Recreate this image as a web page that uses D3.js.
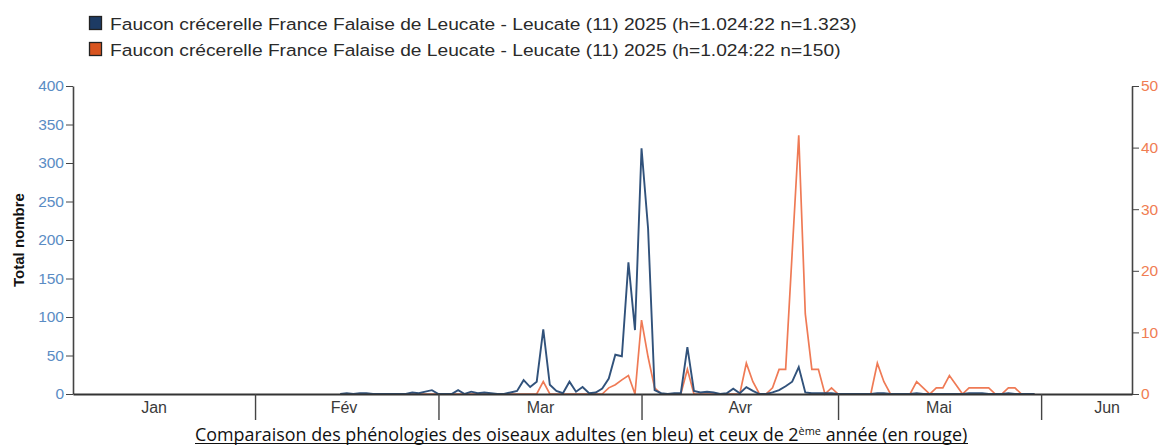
<!DOCTYPE html>
<html><head><meta charset="utf-8">
<script src="https://cdn.jsdelivr.net/npm/d3@7"></script>
<style>body{margin:0;background:#fff} svg{display:block}</style>
</head><body>
<svg id="chart" width="1163" height="446"></svg>
<script>
// ---------- DATA ----------
const seriesStart = "2025-02-14"; // first day of the daily arrays
const adults = [
  // Feb 14 - Feb 28
  0,1,0,1,1,0,0,0,0,0,0,2,1,3,5,
  // Mar 1 - Mar 31
  0,0,0,5,0,3,1,2,1,0,0,2,4,18,9,16,84,12,4,1,16,3,9,1,2,7,20,51,49,171,83,
  // Apr 1 - Apr 30
  319,215,5,1,0,1,1,61,4,2,3,2,0,1,7,1,9,4,0,0,2,5,10,16,35,2,1,1,1,1,
  // May 1 - May 31
  0,0,0,0,0,0,1,1,0,0,0,0,1,0,0,0,0,0,0,0,1,1,1,0,0,0,1,0,0,0,0
];
const secondYear = [
  // Feb 14 - Feb 28
  0,0,0,0,0,0,0,0,0,0,0,0,0,0,0,
  // Mar 1 - Mar 31
  0,0,0,0,0,0,0,0,0,0,0,0,0,0,0,0,2,0,0,0,0,0,0,0,0,0,1,1.5,2.3,3,0,
  // Apr 1 - Apr 30
  12,6,1,0,0,0,0,4,0,0,0,0,0,0,0,0,5,2,0,0,1,4,4,23,42,13,4,4,0,1,
  // May 1 - May 31
  0,0,0,0,0,0,5,2,0,0,0,0,2,1,0,1,1,3,1.5,0,1,1,1,1,0,0,1,1,0,0,0
];
const xDomain = ["2025-01-04T05:00Z", "2025-06-14T21:00Z"];
const monthStarts = ["2025-02-01", "2025-03-01", "2025-04-01", "2025-05-01", "2025-06-01"];
const monthLabels = ["Jan", "Fév", "Mar", "Avr", "Mai", "Jun"];
const monthLabelDates = ["2025-01-16T12:00Z", "2025-02-14T12:00Z", "2025-03-16T12:00Z", "2025-04-16T00:00Z", "2025-05-16T08:00Z", "2025-06-11T00:00Z"];
const leftTicks = [0, 50, 100, 150, 200, 250, 300, 350, 400];
const rightTicks = [0, 10, 20, 30, 40, 50];
const leftMax = 400, rightMax = 50;
const legendLabels = [
  "Faucon crécerelle France Falaise de Leucate - Leucate (11) 2025 (h=1.024:22 n=1.323)",
  "Faucon crécerelle France Falaise de Leucate - Leucate (11) 2025 (h=1.024:22 n=150)"
];
const yTitle = "Total nombre";
const captionParts = ["Comparaison des phénologies des oiseaux adultes (en bleu) et ceux de 2", "ème", " année (en rouge)"];

// ---------- LAYOUT ----------
const W = 1163, H = 446;
const m = {left: 73, right: 31, top: 86, bottom: 52};
const plotR = W - m.right, plotB = H - m.bottom;
const blueCol = "#31527b", redCol = "#ef7a55";
const blueSwatch = "#1d3b64", redSwatch = "#d8541f";
const font = "'Liberation Sans', Arial, sans-serif";

const svg = d3.select("#chart");
const parse = s => new Date(s.length === 10 ? s + "T00:00:00Z" : s);
const start = parse(seriesStart);
const dayOf = i => new Date(start.getTime() + i * 86400000);

const x = d3.scaleUtc().domain(xDomain.map(parse)).range([m.left, plotR]);
const yL = d3.scaleLinear().domain([0, leftMax]).range([plotB, m.top]);
const yR = d3.scaleLinear().domain([0, rightMax]).range([plotB, m.top]);

const adultPts = adults.map((v, i) => ({d: dayOf(i), v}));
const secondPts = secondYear.map((v, i) => ({d: dayOf(i), v}));

// lines
svg.append("path").datum(secondPts)
  .attr("fill", "none").attr("stroke", redCol).attr("stroke-width", 1.7)
  .attr("d", d3.line().x(p => x(p.d)).y(p => yR(p.v)));
svg.append("path").datum(adultPts)
  .attr("fill", "none").attr("stroke", blueCol).attr("stroke-width", 1.9)
  .attr("d", d3.line().x(p => x(p.d)).y(p => yL(p.v)));

// left axis
const gL = svg.append("g").attr("transform", `translate(${m.left},0)`)
  .call(d3.axisLeft(yL).tickValues(leftTicks).tickSize(7).tickSizeOuter(0).tickPadding(2));
gL.selectAll("text").attr("fill", "#5a8cc4").style("font", `15.5px ${font}`);
gL.selectAll("line").attr("stroke", "#444");
gL.select(".domain").attr("stroke", "#444").attr("stroke-width", 1.6);

// right axis
const gR = svg.append("g").attr("transform", `translate(${plotR},0)`)
  .call(d3.axisRight(yR).tickValues(rightTicks).tickSize(7).tickSizeOuter(0).tickPadding(2));
gR.selectAll("text").attr("fill", "#f07d52").style("font", `15.5px ${font}`);
gR.selectAll("line").attr("stroke", "#444");
gR.select(".domain").attr("stroke", "#444").attr("stroke-width", 1.6);

// bottom axis: separators
const gB = svg.append("g").attr("transform", `translate(0,${plotB})`)
  .call(d3.axisBottom(x).tickValues(monthStarts.map(parse)).tickSize(26).tickSizeOuter(0).tickFormat(""));
gB.selectAll("line").attr("stroke", "#444").attr("stroke-width", 1.4);
gB.select(".domain").attr("stroke", "#333").attr("stroke-width", 2);

// bottom axis: month labels
const gB2 = svg.append("g").attr("transform", `translate(0,${plotB})`)
  .call(d3.axisBottom(x).tickValues(monthLabelDates.map(parse)).tickSize(0).tickPadding(8)
    .tickFormat((d, i) => monthLabels[i]));
gB2.select(".domain").remove();
gB2.selectAll("text").attr("fill", "#3a3a3a").style("font", `16px ${font}`);

// y title
svg.append("text")
  .attr("transform", `translate(24,${(m.top + plotB) / 2}) rotate(-90)`)
  .attr("text-anchor", "middle")
  .style("font", `bold 15px ${font}`).attr("fill", "#111")
  .text(yTitle);

// legend
const legend = svg.append("g");
const legendTexts = [];
[[blueSwatch, legendLabels[0]], [redSwatch, legendLabels[1]]].forEach(([c, t], i) => {
  const yy = 16 + i * 26;
  legend.append("rect").attr("x", 89.5).attr("y", yy + 0.5).attr("width", 12).attr("height", 13)
    .attr("fill", c).attr("stroke", "#222").attr("stroke-width", 1.3);
  const tg = legend.append("g").attr("transform", `translate(110,${yy + 13.5})`);
  const tx = tg.append("text").attr("x", 0).attr("y", 0)
    .style("font", `17px ${font}`).attr("fill", "#2a2a2a").text(t);
  legendTexts.push([tg, tx, yy + 13.5]);
});
const lw = legendTexts[0][1].node().getComputedTextLength();
const lsx = (857 - 110) / lw;
legendTexts.forEach(([tg, tx, yy]) => tg.attr("transform", `translate(110,${yy}) scale(${lsx},1)`));

// caption
const capG = svg.append("g");
const cap = capG.append("text").attr("x", 0).attr("y", 0)
  .style("font", `18px 'Open Sans', sans-serif`).attr("fill", "#111");
cap.append("tspan").text(captionParts[0]);
cap.append("tspan").attr("dy", -6).style("font-size", "11px").text(captionParts[1]);
cap.append("tspan").attr("dy", 6).text(captionParts[2]);
const bb = cap.node().getBBox();
const capX0 = 195, capX1 = 968, capY = 441;
capG.attr("transform", `translate(${capX0},${capY}) scale(${(capX1 - capX0) / bb.width},1)`);
svg.append("line").attr("x1", capX0).attr("x2", capX1).attr("y1", capY + 2.5).attr("y2", capY + 2.5)
  .attr("stroke", "#111").attr("stroke-width", 1);
</script>
</body></html>
